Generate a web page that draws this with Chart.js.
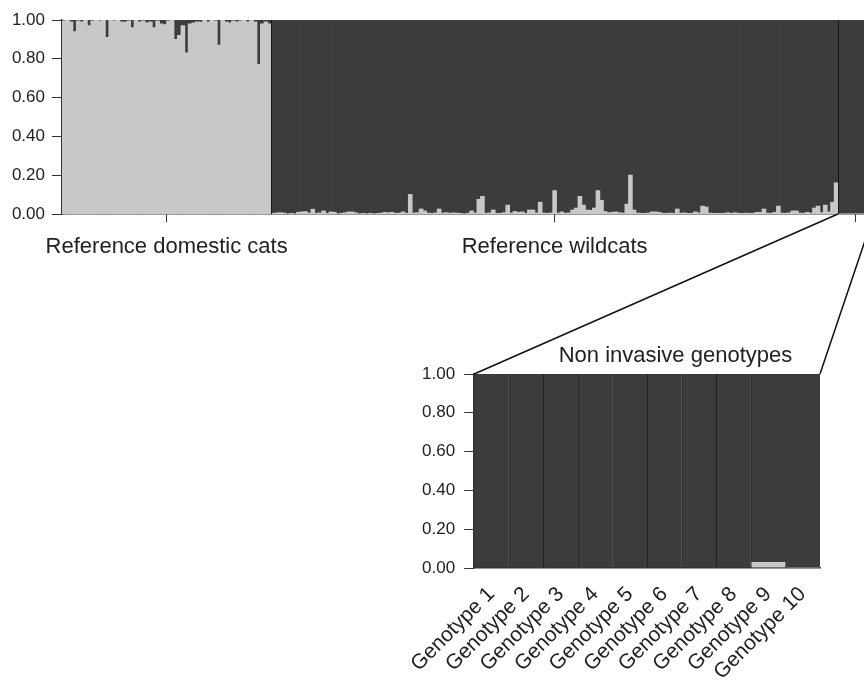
<!DOCTYPE html>
<html>
<head>
<meta charset="utf-8">
<title>Admixture plot</title>
<script src="https://cdn.jsdelivr.net/npm/chart.js@4.4.1/dist/chart.umd.min.js"></script>
<style>
    html, body { margin: 0; padding: 0; width: 864px; height: 680px; overflow: hidden; background: #fff; }
    #topChart { position: absolute; left: 0; top: 0; }
    #genoChart { position: absolute; left: 397px; top: 330px; }
    #links { position: absolute; left: 0; top: 0; pointer-events: none; }
</style>
</head>
<body>
<canvas id="topChart" width="880" height="264"></canvas>
<canvas id="genoChart" width="443" height="350"></canvas>
<canvas id="links" width="864" height="680"></canvas>
<script>
// membership in the domestic cluster (q), one value per individual
const domesticQ = [
    0.995, 1, 0.99, 0.94, 0.995, 0.99, 1, 0.97, 0.995, 1,
    0.995, 1, 0.91, 1, 0.995, 1, 0.99, 0.988, 0.995, 0.96,
    1, 0.99, 0.995, 0.985, 0.99, 0.96, 0.995, 0.98, 0.975, 0.995,
    1, 0.90, 0.92, 0.97, 0.83, 0.98, 0.985, 0.99, 0.988, 1,
    0.99, 1, 0.995, 0.87, 1, 0.99, 0.985, 0.995, 0.99, 0.995,
    1, 0.99, 1, 0.99, 0.77, 0.98, 0.99, 0.98
];

const wildQ = [
    0.003, 0.005, 0.006, 0.004, 0, 0.002, 0, 0.008, 0.01, 0.012,
    0.004, 0.024, 0.003, 0.005, 0.015, 0.003, 0.01, 0.008, 0, 0.003,
    0.006, 0.01, 0.01, 0.005, 0, 0.002, 0, 0.003, 0, 0.002,
    0.004, 0.008, 0.006, 0.008, 0.002, 0.004, 0.01, 0.003, 0.10, 0.004,
    0.006, 0.025, 0.015, 0.004, 0.002, 0.005, 0.025, 0.004, 0.006, 0.003,
    0.005, 0.004, 0.002, 0, 0.003, 0.015, 0.004, 0.075, 0.09, 0.003,
    0.005, 0.02, 0.003, 0.002, 0.006, 0.045, 0.004, 0.012, 0.008, 0.01,
    0.003, 0.02, 0.02, 0.005, 0.06, 0.004, 0.002, 0.005, 0.12, 0.004,
    0.01, 0.003, 0.005, 0.02, 0.03, 0.09, 0.045, 0.02, 0.018, 0.03,
    0.12, 0.07, 0.012, 0.006, 0.008, 0.01, 0.006, 0.004, 0.05, 0.20,
    0.02, 0.004, 0.003, 0.002, 0.004, 0.01, 0.01, 0.008, 0.003, 0.002,
    0.004, 0.003, 0.025, 0.004, 0.005, 0.002, 0.003, 0.01, 0.005, 0.04,
    0.035, 0.004, 0.002, 0.003, 0.002, 0.003, 0.006, 0.002, 0.006, 0.003,
    0.002, 0.004, 0.002, 0.003, 0.008, 0.008, 0.025, 0.004, 0.003, 0.008,
    0.04, 0.004, 0.003, 0.005, 0.015, 0.015, 0.004, 0.003, 0.008, 0.004,
    0.03, 0.04, 0.006, 0.045, 0.01, 0.06, 0.16
];

const genotypeLabels = [
    "Genotype 1", "Genotype 2", "Genotype 3", "Genotype 4", "Genotype 5",
    "Genotype 6", "Genotype 7", "Genotype 8", "Genotype 9", "Genotype 10"
];
const genotypeQ = [0, 0, 0, 0, 0, 0, 0, 0, 0.03, 0.005];

const groupNames = ["Reference domestic cats", "Reference wildcats", ""];
const yTicks = [0, 0.2, 0.4, 0.6, 0.8, 1.0];

const LIGHT = "#c8c8c8";
const DARK = "#3c3c3c";
const INK = "#222222";
const FONT = '"Liberation Sans", Arial, sans-serif';

Chart.defaults.font.family = FONT;
Chart.defaults.color = INK;
Chart.defaults.animation = false;

// top panel: all individuals side by side
var groups = [domesticQ, wildQ, genotypeQ];
var allQ = [].concat(domesticQ, wildQ, genotypeQ);
var allLabels = allQ.map((q, i) => "Individual " + (i + 1));

var groupStarts = [];
var groupCenters = [];
var pos = 0;
groups.forEach((g) => {
    groupStarts.push(pos);
    groupCenters.push(pos + g.length / 2);
    pos += g.length;
});

function yAxis(width, pad) {
    return {
        type: "linear",
        stacked: true,
        min: 0,
        max: 1,
        afterBuildTicks: (s) => { s.ticks = yTicks.map((v) => ({ value: v })); },
        afterFit: (s) => { s.width = width; },
        ticks: {
            font: { size: 17 },
            padding: pad,
            callback: (v) => Number(v).toFixed(2),
        },
        grid: { drawOnChartArea: false, tickLength: 10, color: "#333" },
        border: { color: "#333", width: 1.5 },
    };
}

// thin lines between the groups
var separators = {
    id: "separators",
    afterDatasetsDraw(chart) {
        var ctx = chart.ctx;
        var ca = chart.chartArea;
        var xs = chart.scales.xg;
        ctx.save();
        ctx.strokeStyle = "#151515";
        ctx.lineWidth = 1;
        groupStarts.slice(1).forEach((g) => {
            var px = Math.round(xs.getPixelForValue(g)) + 0.5;
            ctx.beginPath();
            ctx.moveTo(px, ca.top);
            ctx.lineTo(px, ca.bottom);
            ctx.stroke();
        });
        ctx.restore();
    },
};

var topChart = new Chart(document.getElementById("topChart"), {
    type: "bar",
    data: {
        labels: allLabels,
        datasets: [
            {
                label: "Domestic cluster",
                data: allQ,
                backgroundColor: LIGHT,
                xAxisID: "x",
                yAxisID: "y",
            },
            {
                label: "Wild cluster",
                data: allQ.map((q) => +(1 - q).toFixed(3)),
                backgroundColor: DARK,
                xAxisID: "x",
                yAxisID: "y",
            },
        ],
    },
    options: {
        responsive: false,
        barPercentage: 1,
        categoryPercentage: 1,
        borderWidth: 0,
        inflateAmount: 0.5,
        layout: { padding: { top: 20, right: 6, left: 0, bottom: 0 } },
        plugins: { legend: { display: false }, tooltip: { enabled: false } },
        scales: {
            x: { type: "category", display: false, stacked: true },
            xg: {
                type: "linear",
                position: "bottom",
                offset: false,
                min: 0,
                max: allQ.length,
                afterBuildTicks: (s) => { s.ticks = groupCenters.map((v) => ({ value: v })); },
                afterFit: (s) => { s.height = 50; },
                ticks: {
                    font: { size: 22 },
                    padding: 12,
                    maxRotation: 0,
                    autoSkip: false,
                    callback: (v, i) => groupNames[i],
                },
                grid: { offset: false, drawOnChartArea: false, tickLength: 8, color: "#333" },
                border: { color: "#333", width: 1.5 },
            },
            y: yAxis(62, 7),
        },
    },
    plugins: [separators],
});

// panel title placed over the bars
var panelTitle = {
    id: "panelTitle",
    afterDraw(chart, args, opts) {
        var ctx = chart.ctx;
        var ca = chart.chartArea;
        ctx.save();
        ctx.font = "22px " + FONT;
        ctx.fillStyle = INK;
        ctx.textAlign = "center";
        ctx.textBaseline = "alphabetic";
        ctx.fillText(opts.text, ca.left + ca.width * opts.center, ca.top - opts.lift);
        ctx.restore();
    },
};

var genoChart = new Chart(document.getElementById("genoChart"), {
    type: "bar",
    data: {
        labels: genotypeLabels,
        datasets: [
            {
                label: "Domestic cluster",
                data: genotypeQ,
                backgroundColor: LIGHT,
                borderColor: "#2a2a2a",
                borderWidth: { left: 1, right: 0, top: 0, bottom: 0 },
            },
            {
                label: "Wild cluster",
                data: genotypeQ.map((q) => +(1 - q).toFixed(3)),
                backgroundColor: DARK,
                borderColor: "#1e1e1e",
                borderWidth: { left: 1, right: 0, top: 0, bottom: 0 },
            },
        ],
    },
    options: {
        responsive: false,
        barPercentage: 1,
        categoryPercentage: 1,
        layout: { padding: { top: 44, right: 20, left: 0, bottom: 0 } },
        plugins: {
            legend: { display: false },
            tooltip: { enabled: false },
            panelTitle: { text: "Non invasive genotypes", center: 0.582, lift: 12 },
        },
        scales: {
            x: {
                stacked: true,
                afterFit: (s) => { s.height = 112; },
                ticks: {
                    font: { size: 21 },
                    minRotation: 45,
                    maxRotation: 45,
                    autoSkip: false,
                    padding: 14,
                },
                grid: { display: false, drawTicks: false },
                border: { color: "#333", width: 1.5 },
            },
            y: yAxis(74, 9),
        },
    },
    plugins: [panelTitle],
});

// zoom lines from the top panel down to the genotype panel
(function drawLinks() {
    var ctx = document.getElementById("links").getContext("2d");
    var xs = topChart.scales.xg;
    var y0 = topChart.chartArea.bottom;
    var ca = genoChart.chartArea;
    var box = document.getElementById("genoChart");
    var ox = box.offsetLeft, oy = box.offsetTop;
    var niStart = groupStarts[2];
    ctx.strokeStyle = "#111";
    ctx.lineWidth = 1.5;
    ctx.beginPath();
    ctx.moveTo(xs.getPixelForValue(niStart), y0);
    ctx.lineTo(ox + ca.left, oy + ca.top);
    ctx.moveTo(xs.getPixelForValue(allQ.length), y0);
    ctx.lineTo(ox + ca.right, oy + ca.top);
    ctx.stroke();
})();
</script>
</body>
</html>
